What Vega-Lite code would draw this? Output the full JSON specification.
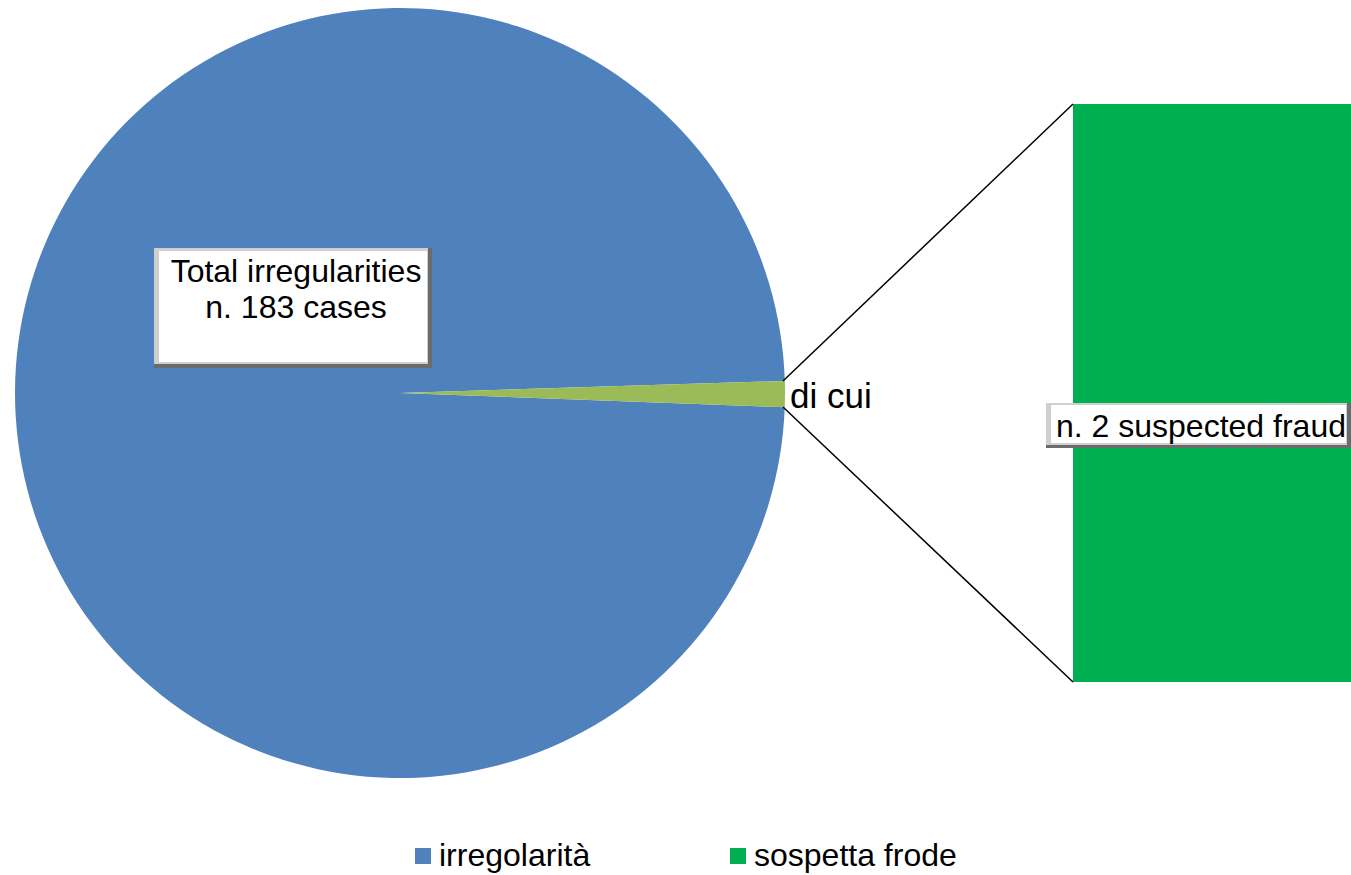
{
  "$schema": "https://vega.github.io/schema/vega-lite/v6.json",
  "width": 1351,
  "height": 875,
  "autosize": "none",
  "padding": 0,
  "background": "white",
  "config": {"view": {"stroke": null}, "font": "Liberation Sans"},
  "data": {"values": [
    {"categoria": "irregolarità", "casi": 181},
    {"categoria": "sospetta frode", "casi": 2}
  ]},
  "layer": [
    {
      "mark": {"type": "arc", "radius": 385, "x": 400, "y": 393},
      "encoding": {
        "theta": {"field": "casi", "type": "quantitative", "stack": true, "scale": {"range": [1.5394, 7.8226]}},
        "order": {"field": "categoria", "sort": "descending"},
        "color": {
          "field": "categoria",
          "type": "nominal",
          "condition": {"test": "datum.categoria === 'sospetta frode'", "value": "#9BBB59"},
          "scale": {"domain": ["irregolarità", "sospetta frode"], "range": ["#4F81BD", "#00B050"]},
          "legend": {
            "orient": "none", "legendX": 407, "legendY": 840, "direction": "horizontal",
            "title": null, "symbolType": "square", "symbolSize": 256, "symbolStrokeWidth": 0,
            "symbolOpacity": 1,
            "labelFont": "Liberation Sans", "labelFontSize": 32, "labelColor": "black",
            "labelOffset": 0, "columnPadding": 131, "padding": 0, "labelLimit": 400
          }
        }
      }
    },
    {
      "transform": [{"filter": "datum.categoria === 'sospetta frode'"}],
      "mark": {"type": "rect", "x": 1073, "x2": 1351},
      "encoding": {
        "y": {"field": "casi", "type": "quantitative", "scale": {"domain": [-0.6678, 2.3599], "nice": false, "zero": false}, "axis": null},
        "y2": {"datum": 0},
        "color": {"field": "categoria", "type": "nominal"}
      }
    },
    {
      "transform": [{"filter": "datum.categoria === 'sospetta frode'"}],
      "mark": {"type": "rule", "color": "black", "strokeWidth": 1.5},
      "encoding": {"x": {"value": 783}, "y": {"value": 381}, "x2": {"value": 1073}, "y2": {"value": 104}}
    },
    {
      "transform": [{"filter": "datum.categoria === 'sospetta frode'"}],
      "mark": {"type": "rule", "color": "black", "strokeWidth": 1.5},
      "encoding": {"x": {"value": 783}, "y": {"value": 407}, "x2": {"value": 1073}, "y2": {"value": 682}}
    },
    {
      "transform": [{"filter": "datum.categoria === 'sospetta frode'"}],
      "mark": {"type": "rect", "x": 154, "x2": 432, "y": 248, "y2": 368, "color": "#6b6b6b"},
      "encoding": {}
    },
    {
      "transform": [{"filter": "datum.categoria === 'sospetta frode'"}],
      "mark": {"type": "rect", "x": 154, "x2": 428, "y": 248, "y2": 364, "color": "#cfcfcf"},
      "encoding": {}
    },
    {
      "transform": [{"filter": "datum.categoria === 'sospetta frode'"}],
      "mark": {"type": "rect", "x": 159, "x2": 427, "y": 251, "y2": 362, "color": "white"},
      "encoding": {}
    },
    {
      "transform": [{"filter": "datum.categoria === 'sospetta frode'"}],
      "mark": {"type": "rect", "x": 1046, "x2": 1351, "y": 403, "y2": 448, "color": "#6b6b6b"},
      "encoding": {}
    },
    {
      "transform": [{"filter": "datum.categoria === 'sospetta frode'"}],
      "mark": {"type": "rect", "x": 1046, "x2": 1347, "y": 403, "y2": 445, "color": "#cfcfcf"},
      "encoding": {}
    },
    {
      "transform": [{"filter": "datum.categoria === 'sospetta frode'"}],
      "mark": {"type": "rect", "x": 1051, "x2": 1346, "y": 405, "y2": 443, "color": "white"},
      "encoding": {}
    },
    {
      "transform": [{"filter": "datum.categoria === 'sospetta frode'"}],
      "mark": {"type": "text", "text": ["Total irregularities", "n. 183 cases"], "x": 296, "y": 282, "align": "center", "baseline": "alphabetic", "lineHeight": 36, "fontSize": 32, "font": "Liberation Sans", "color": "black"},
      "encoding": {}
    },
    {
      "transform": [{"filter": "datum.categoria === 'sospetta frode'"}],
      "mark": {"type": "text", "text": "di cui", "x": 790, "y": 408, "align": "left", "baseline": "alphabetic", "fontSize": 35, "font": "Liberation Sans", "color": "black"},
      "encoding": {}
    },
    {
      "transform": [{"filter": "datum.categoria === 'sospetta frode'"}],
      "mark": {"type": "text", "text": "n. 2 suspected fraud", "x": 1056, "y": 437, "align": "left", "baseline": "alphabetic", "fontSize": 32, "font": "Liberation Sans", "color": "black"},
      "encoding": {}
    }
  ]
}
